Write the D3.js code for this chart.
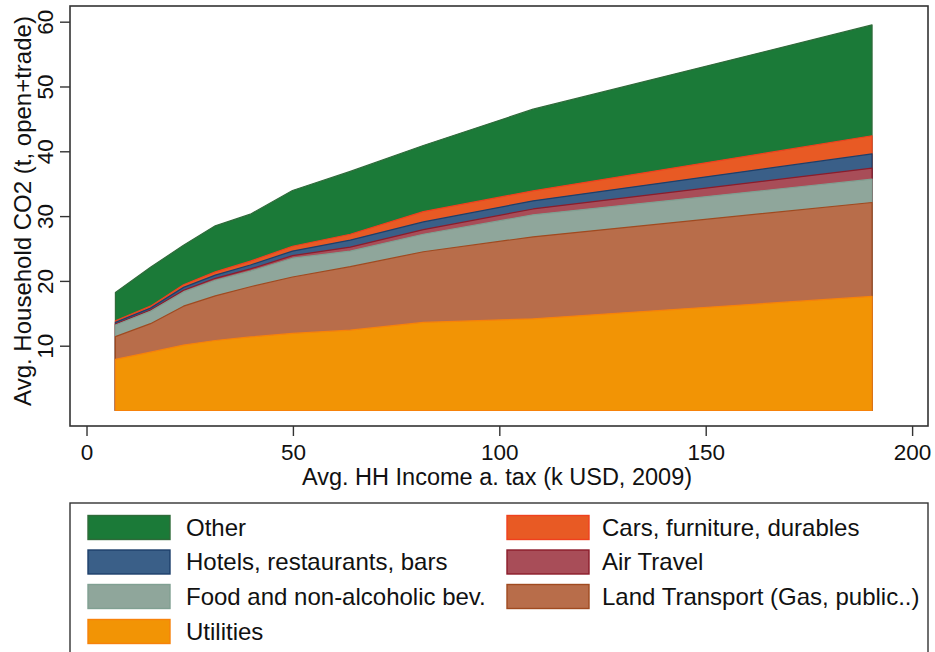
<!DOCTYPE html>
<html>
<head>
<meta charset="utf-8">
<script src="https://cdn.jsdelivr.net/npm/d3@7"></script>
<style>
  html, body { margin: 0; padding: 0; background: #fff; }
  svg { display: block; }
  text { font-family: "Liberation Sans", Arial, Helvetica, sans-serif; fill: #111; }
</style>
</head>
<body>
<svg id="chart" width="935" height="652"></svg>
<script>
// ---- data ----
const income        = [7.0, 15.5, 23.5, 31.2, 39.7, 49.9, 63.9, 81.6, 108.2, 190.3];
const utilities     = [7.9, 9.0, 10.1, 10.8, 11.35, 11.9, 12.4, 13.6, 14.15, 17.6];
const landTransport = [3.5, 4.4, 6.0, 6.9, 7.75, 8.7, 9.8, 10.9, 12.65, 14.5];
const food          = [1.8, 1.9, 2.2, 2.4, 2.4, 2.9, 2.4, 2.7, 3.4, 3.6];
const airTravel     = [0.15, 0.2, 0.25, 0.3, 0.35, 0.4, 0.6, 0.7, 0.9, 1.7];
const hotels        = [0.25, 0.3, 0.45, 0.5, 0.6, 0.7, 1.1, 1.2, 1.25, 2.2];
const cars          = [0.25, 0.3, 0.4, 0.5, 0.6, 0.75, 0.9, 1.6, 1.55, 2.8];
const other         = [4.35, 6.0, 6.1, 7.1, 7.25, 8.6, 9.7, 10.2, 12.6, 17.1];

const seriesKeys   = ["utilities", "land", "food", "air", "hotels", "cars", "other"];
const seriesLabels = ["Utilities", "Land Transport (Gas, public..)", "Food and non-alcoholic bev.",
                      "Air Travel", "Hotels, restaurants, bars", "Cars, furniture, durables", "Other"];
const seriesValues = [utilities, landTransport, food, airTravel, hotels, cars, other];
const fills   = ["#f29405", "#b86d4a", "#8fa69b", "#a84d58", "#3a5f88", "#e85a24", "#1b7a38"];
const strokes = ["#f7820a", "#a04a20", "#80a092", "#8c1c2a", "#1d3f6b", "#f0401e", "#2f6b3a"];

const xTicks = [0, 50, 100, 150, 200];
const yTicks = [10, 20, 30, 40, 50, 60];
const xTitle = "Avg. HH Income a. tax (k USD, 2009)";
const yTitle = "Avg. Household CO2 (t, open+trade)";
// legend order (2 columns, row-major)
const legendOrder = ["other", "cars", "hotels", "air", "food", "land", "utilities"];

// ---- layout ----
const svg = d3.select("#chart");
const plot = { left: 70, right: 928, top: 6, bottom: 426 };

const x = d3.scaleLinear().domain([-4, 203.85]).range([plot.left, plot.right]);
const y = d3.scaleLinear().domain([-2.39, 62.42]).range([plot.bottom, plot.top]);

const table = income.map((inc, i) => {
  const row = { income: inc };
  seriesKeys.forEach((k, j) => row[k] = seriesValues[j][i]);
  return row;
});
const stacked = d3.stack().keys(seriesKeys)(table);

// each layer drawn from zero up to its cumulative top, largest first (Stata style)
const area = d3.area()
  .x(d => x(d.data.income))
  .y0(() => y(0))
  .y1(d => y(d[1]));

const layers = stacked.map((s, i) => ({ s, i })).reverse();
svg.append("g").selectAll("path")
  .data(layers)
  .join("path")
  .attr("d", d => area(d.s))
  .attr("fill", d => fills[d.i])
  .attr("stroke", d => strokes[d.i])
  .attr("stroke-width", 1.2)
  .attr("stroke-linejoin", "round");

// frame
svg.append("rect")
  .attr("x", plot.left).attr("y", plot.top)
  .attr("width", plot.right - plot.left).attr("height", plot.bottom - plot.top)
  .attr("fill", "none").attr("stroke", "#333").attr("stroke-width", 1.6);

// x axis
const xAxis = d3.axisBottom(x).tickValues(xTicks).tickSize(10).tickPadding(8).tickFormat(d3.format("d"));
const gx = svg.append("g").attr("transform", `translate(0,${plot.bottom})`).call(xAxis);
gx.select(".domain").remove();
gx.selectAll(".tick line").attr("stroke", "#333").attr("stroke-width", 1.4);
gx.selectAll(".tick text")
  .attr("font-size", 22.5).attr("font-family", "Liberation Sans, Arial, sans-serif")
  .attr("fill", "#111").attr("dy", null).attr("y", 33.5);

// y axis
const yAxis = d3.axisLeft(y).tickValues(yTicks).tickSize(10).tickFormat(d3.format("d"));
const gy = svg.append("g").attr("transform", `translate(${plot.left},0)`).call(yAxis);
gy.select(".domain").remove();
gy.selectAll(".tick line").attr("stroke", "#333").attr("stroke-width", 1.4);
gy.selectAll(".tick text")
  .attr("font-size", 22.5).attr("font-family", "Liberation Sans, Arial, sans-serif")
  .attr("fill", "#111")
  .attr("x", null).attr("dy", null)
  .attr("text-anchor", "middle")
  .attr("transform", "translate(-17.5,0) rotate(-90)");

// axis titles
svg.append("text")
  .attr("x", 497).attr("y", 484.5)
  .attr("text-anchor", "middle").attr("font-size", 23.5)
  .text(xTitle);
svg.append("text")
  .attr("transform", "translate(31,211) rotate(-90)")
  .attr("text-anchor", "middle").attr("font-size", 24)
  .text(yTitle);

// legend
const lg = svg.append("g");
lg.append("rect")
  .attr("x", 70).attr("y", 503).attr("width", 858).attr("height", 170)
  .attr("fill", "none").attr("stroke", "#333").attr("stroke-width", 1.4);
const colX = [88, 507];
const textX = [186, 602];
const rowY = [527.5, 562, 596.5, 631.5];
legendOrder.forEach((k, n) => {
  const i = seriesKeys.indexOf(k);
  const col = n % 2, row = Math.floor(n / 2);
  lg.append("rect")
    .attr("x", colX[col]).attr("y", rowY[row] - 12)
    .attr("width", 82).attr("height", 24)
    .attr("fill", fills[i]).attr("stroke", strokes[i]).attr("stroke-width", 1.4);
  lg.append("text")
    .attr("x", textX[col]).attr("y", rowY[row] + 8)
    .attr("font-size", 24)
    .text(seriesLabels[i]);
});
</script>
</body>
</html>
